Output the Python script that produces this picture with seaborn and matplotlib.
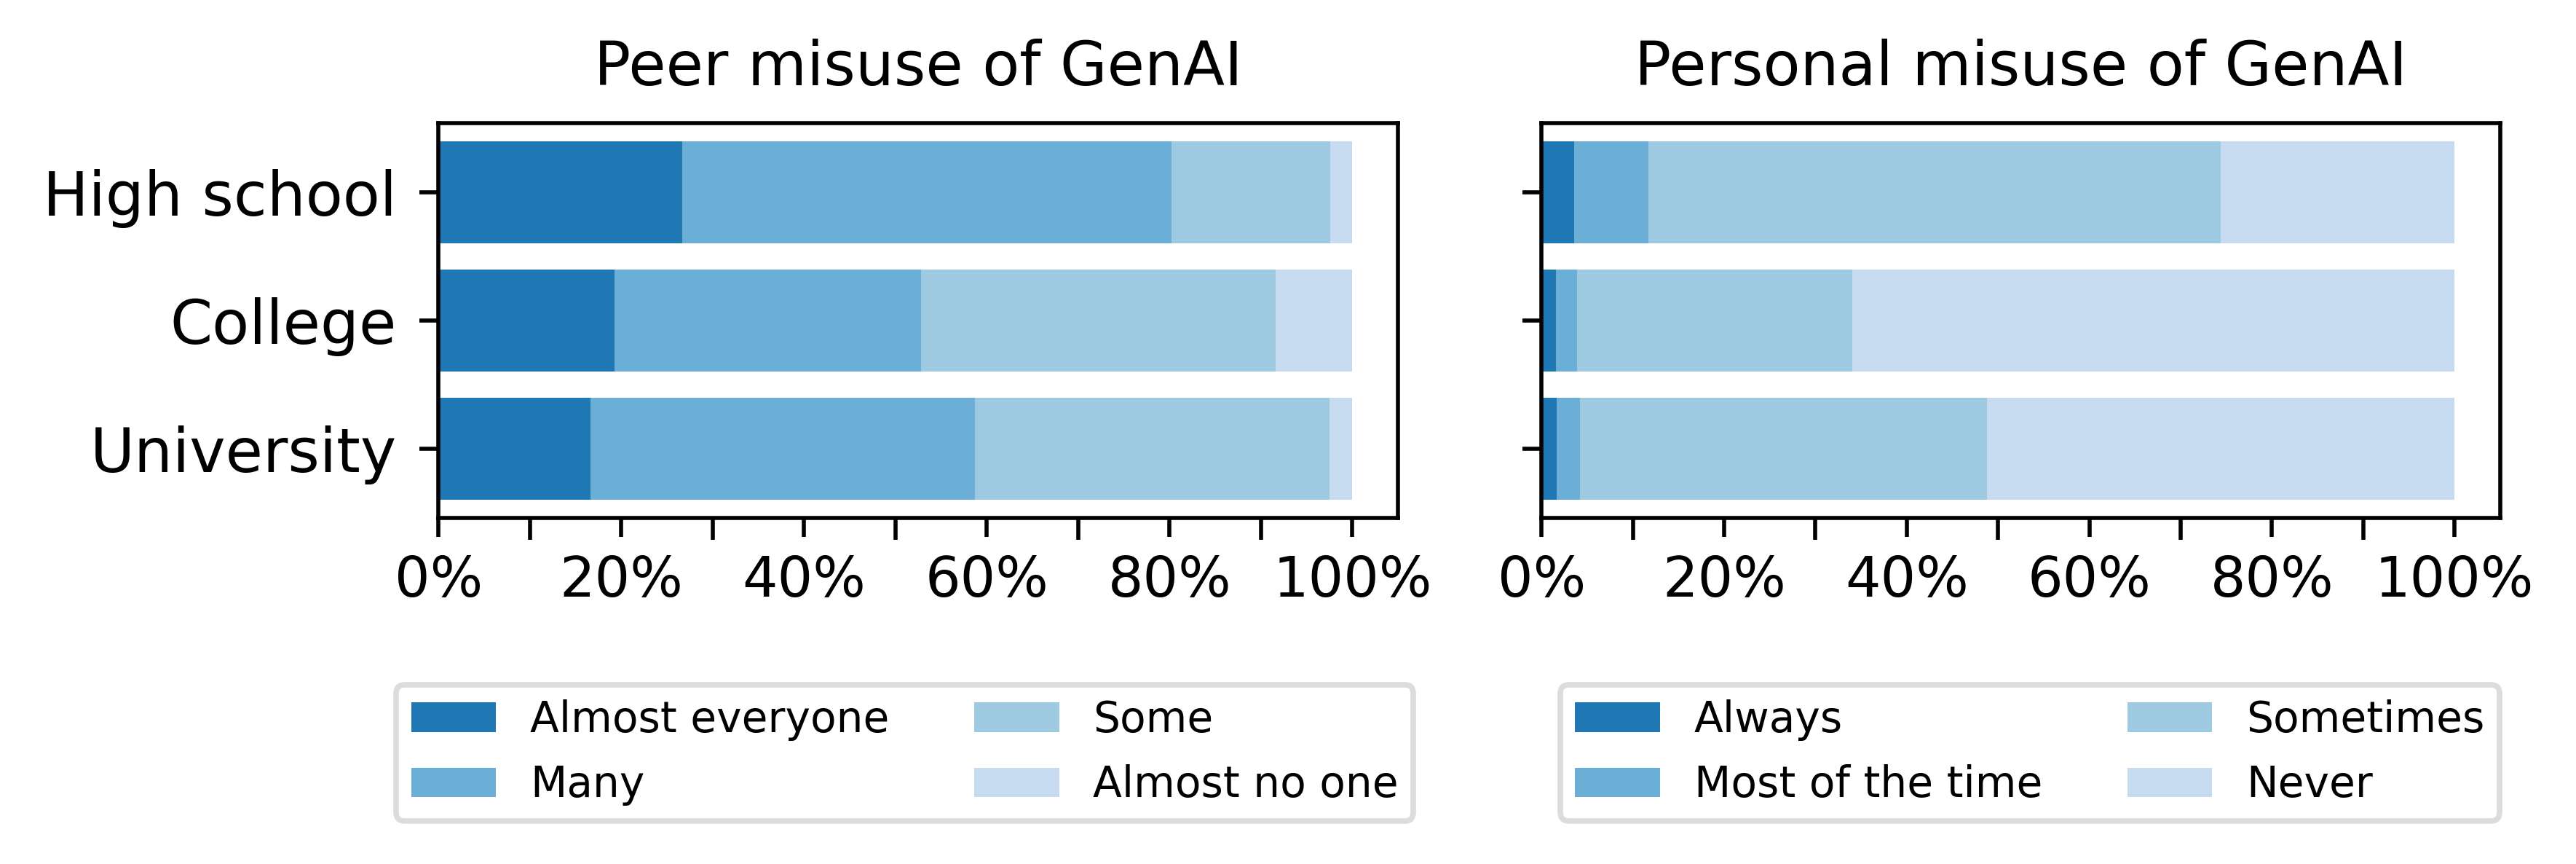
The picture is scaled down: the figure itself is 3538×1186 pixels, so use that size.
import numpy as np
import pandas as pd
import matplotlib
matplotlib.use("Agg")
import matplotlib.pyplot as plt
from matplotlib.patches import Patch
from matplotlib.ticker import PercentFormatter, MultipleLocator
import seaborn as sns

# ---------------- data ----------------
levels = ["High school", "College", "University"]

peer_labels = ["Almost everyone", "Many", "Some", "Almost no one"]
peer_almost_everyone = [0.267, 0.193, 0.166]
peer_many = [0.535, 0.335, 0.421]
peer_some = [0.174, 0.388, 0.388]
peer_almost_no_one = [0.024, 0.084, 0.025]

pers_labels = ["Always", "Most of the time", "Sometimes", "Never"]
pers_always = [0.036, 0.016, 0.017]
pers_most = [0.081, 0.023, 0.025]
pers_sometimes = [0.627, 0.301, 0.4455]
pers_never = [0.256, 0.660, 0.5125]

colors = ["#1f77b4", "#6baed6", "#9ecae1", "#c6dbef"]

titles = ["Peer misuse of GenAI", "Personal misuse of GenAI"]

# ---------------- figure ----------------
fig = plt.figure(figsize=(3538 / 500, 1186 / 500), dpi=500)
ax1 = fig.add_axes([0.1702, 0.4005, 0.3725, 0.4570])
ax2 = fig.add_axes([0.5984, 0.4005, 0.3722, 0.4570])


def stacked(ax, series, labels, title):
    cum = np.cumsum(np.array(series), axis=0)
    # draw longest cumulative first so shorter ones overlay on top
    for i in range(len(series) - 1, -1, -1):
        df = pd.DataFrame({"level": levels, "value": cum[i]})
        sns.barplot(data=df, x="value", y="level", orient="h", color=colors[i],
                    saturation=1, width=0.8, linewidth=0, errorbar=None, ax=ax)
    ax.set_xlim(0, 1.05)
    ax.set_ylim(2.54, -0.54)
    ax.set_xlabel("")
    ax.set_ylabel("")
    ax.xaxis.set_major_locator(MultipleLocator(0.2))
    ax.xaxis.set_minor_locator(MultipleLocator(0.1))
    ax.xaxis.set_major_formatter(PercentFormatter(1, decimals=0))
    ax.tick_params(axis="x", which="major", length=3.7, width=0.8, labelsize=11.0, pad=3.5)
    ax.tick_params(axis="x", which="minor", length=4.3, width=0.8)
    ax.tick_params(axis="y", length=3.7, width=0.8, labelsize=12.0, pad=4.5)
    for s in ax.spines.values():
        s.set_visible(True)
        s.set_linewidth(0.8)
        s.set_color("black")
    ax.set_title(title, fontsize=12.0, pad=7.5)
    handles = [Patch(facecolor=c, edgecolor="none", label=l) for c, l in zip(colors, labels)]
    return handles


h1 = stacked(ax1, [peer_almost_everyone, peer_many, peer_some, peer_almost_no_one],
             peer_labels, titles[0])
h2 = stacked(ax2, [pers_always, pers_most, pers_sometimes, pers_never],
             pers_labels, titles[1])
ax2.set_yticklabels([])

leg_kw = dict(ncol=2, fontsize=8.4, frameon=True, loc="upper center",
              bbox_transform=fig.transFigure, handlelength=2.0, handleheight=0.7,
              handletextpad=0.8, columnspacing=2.0, labelspacing=0.55, borderpad=0.35,
              borderaxespad=0)
l1 = fig.legend(handles=h1, bbox_to_anchor=(0.3513, 0.2075), **leg_kw)
l2 = fig.legend(handles=h2, bbox_to_anchor=(0.7880, 0.2075), **leg_kw)
for l in (l1, l2):
    l.get_frame().set_edgecolor("#d4d4d4")
    l.get_frame().set_linewidth(1.1)

fig.savefig("out.png", dpi=500, facecolor="white")
